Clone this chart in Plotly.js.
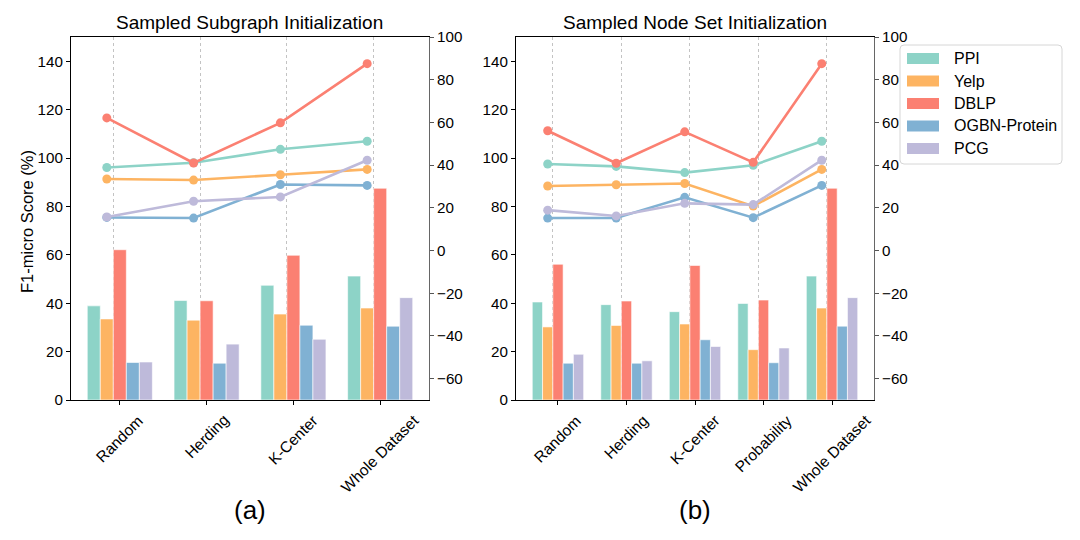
<!DOCTYPE html>
<html>
<head>
<meta charset="utf-8">
<script src="https://cdn.plot.ly/plotly-3.0.1.min.js"></script>
<style>
  html, body { margin: 0; padding: 0; background: #fff; }
  #chart { width: 1080px; height: 540px; }
</style>
</head>
<body>
<div id="chart"></div>
<script>
// ---------- data ----------
const seriesNames = ['PPI', 'Yelp', 'DBLP', 'OGBN-Protein', 'PCG'];
const seriesColors = ['#8dd3c7', '#fdb462', '#fb8072', '#80b1d3', '#bebada'];

const categoriesA = ['Random', 'Herding', 'K-Center', 'Whole Dataset'];
const ppiA   = [38.9, 41.1, 47.4, 51.2];
const yelpA  = [33.5, 33.0, 35.5, 38.0];
const dblpA  = [62.1, 41.0, 59.8, 87.5];
const ogbnA  = [15.5, 15.2, 30.9, 30.5];
const pcgA   = [15.7, 23.1, 25.1, 42.3];

const categoriesB = ['Random', 'Herding', 'K-Center', 'Probability', 'Whole Dataset'];
const ppiB   = [40.5, 39.4, 36.5, 39.9, 51.2];
const yelpB  = [30.2, 30.8, 31.4, 20.8, 38.0];
const dblpB  = [56.1, 40.9, 55.6, 41.3, 87.5];
const ogbnB  = [15.2, 15.2, 24.9, 15.4, 30.5];
const pcgB   = [18.9, 16.2, 22.1, 21.5, 42.3];

const leftTicks  = [0, 20, 40, 60, 80, 100, 120, 140];
const rightTicks = [-60, -40, -20, 0, 20, 40, 60, 80, 100];

const panelTitles = ['Sampled Subgraph Initialization', 'Sampled Node Set Initialization'];
const panelLabels = ['(a)', '(b)'];
const yTitle = 'F1-micro Score (%)';

// ---------- build ----------
const FONT = 'Liberation Sans, Arial, Helvetica, sans-serif';
const W = 1080, H = 540;
const px = v => v / W;
const py = v => (H - v) / H;

const LINE_OFF = -0.15;   // line markers sit at the Yelp bar position
const GRID_OFF = -0.075;  // grid at the DBLP bar left edge

const panels = [
  { cats: categoriesA, vals: [ppiA, yelpA, dblpA, ogbnA, pcgA],
    dom: [px(71), px(429)], bx: 'x', by: 'y', lx: 'x3', ly: 'y2' },
  { cats: categoriesB, vals: [ppiB, yelpB, dblpB, ogbnB, pcgB],
    dom: [px(516), px(874)], bx: 'x2', by: 'y3', lx: 'x4', ly: 'y4' }
];

const traces = [];
panels.forEach(p => {
  const idx = p.cats.map((c, i) => i);
  p.vals.forEach((v, k) => {
    traces.push({
      type: 'bar', x: idx, y: v, xaxis: p.bx, yaxis: p.by,
      marker: { color: seriesColors[k], line: { color: '#ffffff', width: 0.6 } },
      name: seriesNames[k], showlegend: false, hoverinfo: 'skip'
    });
  });
});
panels.forEach(p => {
  const idx = p.cats.map((c, i) => i + LINE_OFF);
  p.vals.forEach((v, k) => {
    traces.push({
      type: 'scatter', mode: 'lines+markers', x: idx, y: v, xaxis: p.lx, yaxis: p.ly,
      line: { color: seriesColors[k], width: 2.6 },
      marker: { color: seriesColors[k], size: 9 },
      name: seriesNames[k], showlegend: false, hoverinfo: 'skip'
    });
  });
});

const yDom = [py(400), py(37)];
const layout = {
  width: W, height: H,
  margin: { l: 0, r: 0, t: 0, b: 0 },
  paper_bgcolor: '#ffffff', plot_bgcolor: 'rgba(0,0,0,0)',
  font: { family: FONT, size: 15.2, color: '#000' },
  barmode: 'group', bargap: 0.25, bargroupgap: 0,
  showlegend: false,
  annotations: [],
  shapes: []
};

panels.forEach((p, j) => {
  const n = p.cats.length;
  const range = [-0.375 - 0.05 * (n - 0.25), (n - 1) + 0.375 + 0.05 * (n - 0.25)];
  const xMain = j === 0 ? 'xaxis' : 'xaxis2';
  const xOver = j === 0 ? 'xaxis3' : 'xaxis4';
  const yMain = j === 0 ? 'yaxis' : 'yaxis3';
  const yOver = j === 0 ? 'yaxis2' : 'yaxis4';
  const idx = p.cats.map((c, i) => i);
  layout[xMain] = {
    domain: p.dom, range: range, anchor: p.by,
    tickvals: idx, showticklabels: false,
    ticks: 'outside', ticklen: 4, tickwidth: 1, tickcolor: '#000',
    showline: true, linecolor: '#000', linewidth: 1, mirror: true,
    showgrid: false, zeroline: false, fixedrange: true
  };
  layout[xOver] = {
    overlaying: p.bx, anchor: p.by, range: range,
    tickvals: idx.map(i => i + GRID_OFF), showticklabels: false, ticks: '',
    showgrid: true, griddash: 'dot', gridcolor: '#b4b4b4', gridwidth: 0.8,
    showline: false, zeroline: false, fixedrange: true
  };
  layout[yMain] = {
    domain: yDom, range: [0, 150], anchor: p.bx,
    tickvals: leftTicks, ticks: 'outside', ticklen: 4, tickcolor: '#000',
    showline: true, linecolor: '#000', linewidth: 1,
    showgrid: false, zeroline: false, fixedrange: true
  };
  layout[yOver] = {
    overlaying: p.by, side: 'right', anchor: p.bx, range: [-70, 100],
    tickvals: rightTicks, ticks: 'outside', ticklen: 4, tickcolor: '#555',
    showline: true, linecolor: '#666', linewidth: 1,
    showgrid: false, zeroline: false, fixedrange: true
  };
  const cx = (p.dom[0] + p.dom[1]) / 2;
  layout.annotations.push({
    text: panelTitles[j], xref: 'paper', yref: 'paper', x: cx, y: py(22),
    xanchor: 'center', yanchor: 'middle', showarrow: false,
    font: { family: FONT, size: 19, color: '#000' }
  });
  layout.annotations.push({
    text: panelLabels[j], xref: 'paper', yref: 'paper', x: cx, y: py(510),
    xanchor: 'center', yanchor: 'middle', showarrow: false,
    font: { family: FONT, size: 26, color: '#000' }
  });
  p.cats.forEach((c, i) => {
    layout.annotations.push({
      text: c, xref: p.bx, yref: 'paper', x: i, y: py(409),
      xanchor: 'center', yanchor: 'top', textangle: -45, showarrow: false,
      font: { family: FONT, size: 15.5, color: '#000' }
    });
  });
});
layout.annotations.push({
  text: yTitle, xref: 'paper', yref: 'paper', x: px(27), y: py(222),
  xanchor: 'center', yanchor: 'middle', textangle: -90, showarrow: false,
  font: { family: FONT, size: 16.5, color: '#000' }
});

// ---------- legend (matplotlib-style box with wide patches) ----------
const LG = { left: 900, right: 1062, top: 45, bottom: 164, r: 4,
             sw0: 907, sw1: 939, swH: 11, textX: 952, row0: 58.5, rowGap: 22.5 };
(function () {
  const x0 = px(LG.left), x1 = px(LG.right), y0 = py(LG.bottom), y1 = py(LG.top);
  const rx = LG.r / W, ry = LG.r / H;
  const path = `M ${x0 + rx} ${y0} L ${x1 - rx} ${y0} Q ${x1} ${y0} ${x1} ${y0 + ry} ` +
               `L ${x1} ${y1 - ry} Q ${x1} ${y1} ${x1 - rx} ${y1} ` +
               `L ${x0 + rx} ${y1} Q ${x0} ${y1} ${x0} ${y1 - ry} ` +
               `L ${x0} ${y0 + ry} Q ${x0} ${y0} ${x0 + rx} ${y0} Z`;
  layout.shapes.push({ type: 'path', xref: 'paper', yref: 'paper', path: path,
    fillcolor: 'rgba(255,255,255,0.85)', line: { color: '#d6d6d6', width: 1 }, layer: 'above' });
  seriesNames.forEach((n, k) => {
    const yc = LG.row0 + k * LG.rowGap;
    layout.shapes.push({ type: 'rect', xref: 'paper', yref: 'paper',
      x0: px(LG.sw0), x1: px(LG.sw1), y0: py(yc + LG.swH / 2), y1: py(yc - LG.swH / 2),
      fillcolor: seriesColors[k], line: { width: 0 }, layer: 'above' });
    layout.annotations.push({ text: n, xref: 'paper', yref: 'paper',
      x: px(LG.textX), y: py(yc), xanchor: 'left', yanchor: 'middle', showarrow: false,
      font: { family: FONT, size: 16, color: '#000' } });
  });
})();

Plotly.newPlot('chart', traces, layout, { displayModeBar: false, staticPlot: true });
</script>
</body>
</html>
